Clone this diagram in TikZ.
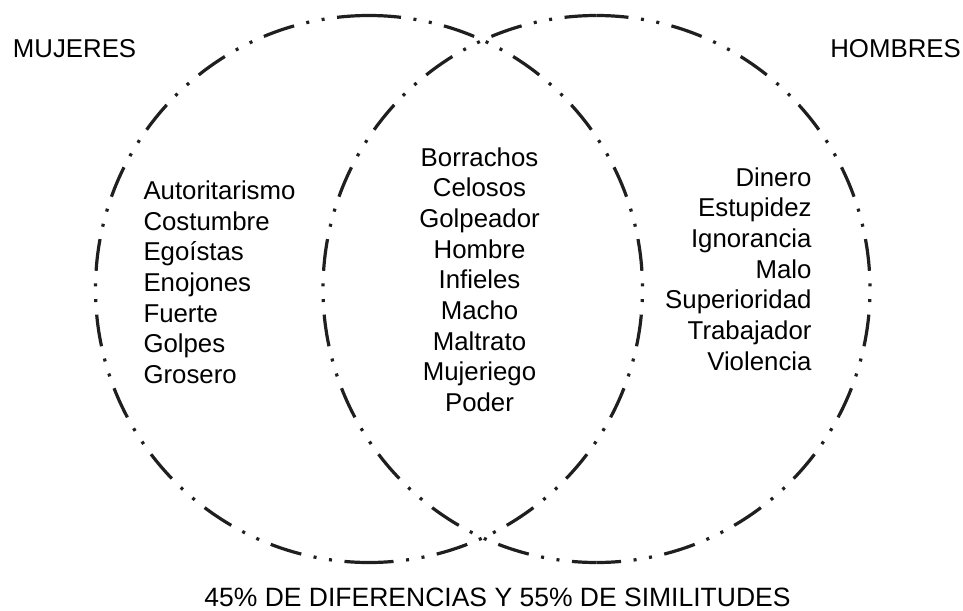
\documentclass[tikz,border=0pt]{standalone}
\usepackage{fontspec}
\setmainfont{Liberation Sans}
\begin{document}
\begin{tikzpicture}[x=1pt,y=-1pt,
  venn/.style={line width=3.2pt, draw=black!88,
    dash pattern=on 32pt off 12.63pt on 3pt off 12.63pt on 3pt off 12.63pt},
  lbl/.style={inner sep=0pt, font=\fontsize{25.8}{30.7}\selectfont},
  big/.style={inner sep=0pt, font=\fontsize{26.5}{30.7}\selectfont}]
\useasboundingbox (0,0) rectangle (963,610);
\coordinate (cm) at (369,289);
\coordinate (ch) at (596.5,289);
\draw[venn] (cm) ++(270:273.5) arc[start angle=270, end angle=450, radius=273.5];
\draw[venn] (cm) ++(270:273.5) arc[start angle=270, end angle=90, radius=273.5];
\draw[venn] (ch) ++(270:273.5) arc[start angle=270, end angle=450, radius=273.5];
\draw[venn] (ch) ++(270:273.5) arc[start angle=270, end angle=90, radius=273.5];
\node[lbl, anchor=base west] (tm) at (12.7,57.3) {MUJERES};
\node[lbl, anchor=base east] (th) at (961,57.3) {HOMBRES};
\node[big, anchor=base] (tb) at (497.5,606) {45\% DE DIFERENCIAS Y 55\% DE SIMILITUDES};
\foreach \t [count=\i from 0] in {Autoritarismo,Costumbre,Egoístas,Enojones,Fuerte,Golpes,Grosero}
  \node[lbl, anchor=base west] (m\i) at (143.3,199.3+\i*30.7) {\t};
\foreach \t [count=\i from 0] in {Borrachos,Celosos,Golpeador,Hombre,Infieles,Macho,Maltrato,Mujeriego,Poder}
  \node[lbl, anchor=base] (c\i) at (479.5,166+\i*30.7) {\t};
\foreach \t [count=\i from 0] in {Dinero,Estupidez,Ignorancia,Malo,Superioridad,Trabajador,Violencia}
  \node[lbl, anchor=base east] (h\i) at (811.7,186+\i*30.7) {\t};
\end{tikzpicture}
\end{document}
